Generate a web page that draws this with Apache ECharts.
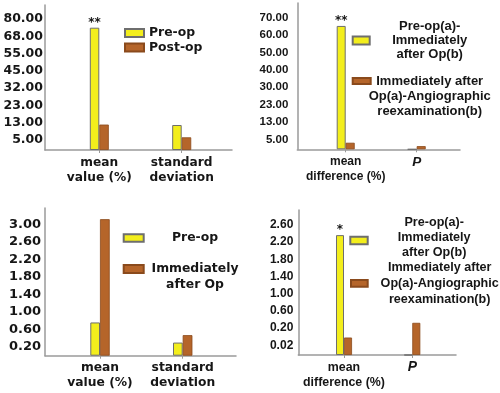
<!DOCTYPE html>
<html><head><meta charset="utf-8">
<script src="https://cdn.jsdelivr.net/npm/echarts@6/dist/echarts.min.js"></script>
<style>html,body{margin:0;padding:0;background:#fff}#c{width:500px;height:393px}</style>
</head><body><div id="c"></div>
<script>
// ---------------- DATA ----------------
// Panel A (top-left)
const catsA = ['mean\nvalue (%)', 'standard\ndeviation'];
const namesA = ['Pre-op', 'Post-op'];
const legendTextA = ['Pre-op', 'Post-op'];
const preOpA = [74, 12];
const postOpA = [12.2, 6.3];
const ticksA = [5, 13, 23, 32, 45, 55, 68, 80];
const marksA = ['**', ''];

// Panel B (top-right)
const catsB = ['mean\ndifference (%)', 'P'];
const namesB = ['Pre-op(a)-Immediately after Op(b)', 'Immediately after Op(a)-Angiographic reexamination(b)'];
const legendTextB = ['Pre-op(a)-\nImmediately\nafter Op(b)', 'Immediately after\nOp(a)-Angiographic\nreexamination(b)'];
const preImmB = [65.2, 0];
const immAngB = [3.3, 1.6];
const ticksB = [5, 13, 23, 30, 40, 50, 60, 70];
const marksB = ['**', ''];

// Panel C (bottom-left)
const catsC = ['mean\nvalue (%)', 'standard\ndeviation'];
const namesC = ['Pre-op', 'Immediately after Op'];
const legendTextC = ['Pre-op', 'Immediately\nafter Op'];
const preOpC = [0.76, 0.30];
const immAfterC = [3.12, 0.47];
const ticksC = [0.2, 0.6, 1.0, 1.4, 1.8, 2.2, 2.6, 3.0];
const marksC = ['', ''];

// Panel D (bottom-right)
const catsD = ['mean\ndifference (%)', 'P'];
const namesD = namesB;
const legendTextD = legendTextB;
const preImmD = [2.36, 0];
const immAngD = [0.10, 0.32];
const ticksD = [0.02, 0.2, 0.6, 1.0, 1.4, 1.8, 2.2, 2.6];
const marksD = ['*', ''];

// ---------------- STYLE / LAYOUT ----------------
const DV = "'DejaVu Sans', sans-serif";
const AR = "'Liberation Sans', Arial, sans-serif";
const YELLOW = '#f3ee1c', YELLOW_B = '#6e6e6e';
const BROWN = '#b5652a', BROWN_B = '#8a4a1c';
const AXIS = '#9a9a9a';
const TXT = '#161616';

const panels = [
  { cats: catsA, names: namesA, ltext: legendTextA, vals: [preOpA, postOpA], ticks: ticksA, marks: marksA,
    L: { left: 45, right: 232, top: 5, axisY: 150, unit: 17.3, offset: 0.57, c0: 99.3, c1: 181.7, barW: 9.5,
         yFam: DV, ySize: 12.5, yMargin: 2, xFam: DV, xSize: 12.2, xMargin: 5.5, xLH: 15,
         legends: [
           { left: 124, top: 25.5, iw: 19, ih: 8, fam: DV, size: 12.4, lh: 15 },
           { left: 124, top: 40, iw: 19, ih: 8, fam: DV, size: 12.4, lh: 15 } ] } },
  { cats: catsB, names: namesB, ltext: legendTextB, vals: [preImmB, immAngB], ticks: ticksB, marks: marksB,
    L: { left: 297.3, right: 460, top: 3, axisY: 149.3, unit: 17.4, offset: 0.57, c0: 345.7, c1: 416.7, barW: 9,
         yFam: AR, ySize: 11.5, yMargin: 9, xFam: AR, xSize: 12, xMargin: 5, xLH: 15,
         legends: [
           { left: 351.7, top: 19.5, iw: 17, ih: 8, fam: AR, size: 13, lh: 14, w: 110 },
           { left: 351.7, top: 43.5, iw: 18, ih: 6, fam: AR, size: 13, lh: 15, w: 108, pad: [30, 0, 0, 0] } ] } },
  { cats: catsC, names: namesC, ltext: legendTextC, vals: [preOpC, immAfterC], ticks: ticksC, marks: marksC,
    L: { left: 45, right: 236, top: 208, axisY: 355.7, unit: 17.5, offset: 0.5, c0: 100, c1: 182.7, barW: 9.7,
         yFam: DV, ySize: 13, yMargin: 4, xFam: DV, xSize: 12.3, xMargin: 5, xLH: 15,
         legends: [
           { left: 122.7, top: 230, iw: 20, ih: 7.5, fam: DV, size: 12.4, lh: 16, w: 92.6 },
           { left: 122.7, top: 245, iw: 20, ih: 8, fam: DV, size: 12.4, lh: 16, w: 92.6, pad: [16, 0, 0, 0] } ] } },
  { cats: catsD, names: namesD, ltext: legendTextD, vals: [preImmD, immAngD], ticks: ticksD, marks: marksD,
    L: { left: 298.3, right: 456, top: 210, axisY: 355, unit: 17.2, offset: 0.57, c0: 344, c1: 412.3, barW: 8,
         yFam: AR, ySize: 12, yMargin: 5, xFam: AR, xSize: 12.4, xMargin: 5, xLH: 15,
         legends: [
           { left: 349.3, top: 215, iw: 17.4, ih: 7.6, fam: AR, size: 12.6, lh: 15, w: 123, pad: [0, 0, 6, 0] },
           { left: 350, top: 259.6, iw: 16.7, ih: 6.7, fam: AR, size: 12.6, lh: 15.8, w: 134 } ] } }
];

function mapper(ticks, offset) {
  const xs = [0, ...ticks];
  const ps = [0, ...ticks.map((t, i) => offset + i)];
  return v => {
    if (v == null) return null;
    let k = 1;
    while (k < xs.length - 1 && v > xs[k]) k++;
    return ps[k - 1] + (v - xs[k - 1]) * (ps[k] - ps[k - 1]) / (xs[k] - xs[k - 1]);
  };
}

const option = { animation: false, grid: [], xAxis: [], yAxis: [], series: [], legend: [] };

panels.forEach((p, gi) => {
  const L = p.L;
  const f = mapper(p.ticks, L.offset);
  const gh = L.axisY - L.top;
  const step = L.c1 - L.c0;
  option.grid.push({ left: L.left, top: L.top, width: L.right - L.left, height: gh, containLabel: false });
  const tickPos = p.ticks.map(t => f(t));
  option.yAxis.push({
    type: 'value', gridIndex: gi, min: 0, max: gh / L.unit,
    axisLine: { show: true, onZero: false, lineStyle: { color: AXIS, width: 1.5 } },
    axisTick: { show: false }, splitLine: { show: false },
    axisLabel: {
      customValues: tickPos, margin: L.yMargin, color: TXT, fontFamily: L.yFam, fontSize: L.ySize, fontWeight: 'bold',
      formatter: v => { const i = tickPos.findIndex(q => Math.abs(q - v) < 1e-6); return i < 0 ? '' : p.ticks[i].toFixed(2); }
    }
  });
  option.xAxis.push({
    type: 'value', gridIndex: gi,
    min: -(L.c0 - L.left) / step, max: 1 + (L.right - L.c1) / step,
    axisLine: { show: true, onZero: false, lineStyle: { color: AXIS, width: 1.5 } },
    axisTick: { show: true, customValues: p.cats.map((c, i) => i), length: 3, lineStyle: { color: AXIS, width: 1 } },
    splitLine: { show: false },
    axisLabel: {
      customValues: p.cats.map((c, i) => i), margin: L.xMargin, color: TXT, fontFamily: L.xFam, fontSize: L.xSize,
      fontWeight: 'bold', lineHeight: L.xLH,
      formatter: v => { const c = p.cats[Math.round(v)]; return c === 'P' ? '{p|P}' : c; },
      rich: { p: { fontStyle: 'italic', fontWeight: 'bold', fontFamily: L.xFam, fontSize: L.xSize + 1.5, color: TXT } }
    }
  });
  p.vals.forEach((arr, si) => {
    option.series.push({
      type: 'bar', name: p.names[si], xAxisIndex: gi, yAxisIndex: gi,
      barWidth: L.barW, barGap: '0%',
      itemStyle: si === 0 ? { color: YELLOW, borderColor: YELLOW_B, borderWidth: 1 }
                          : { color: BROWN, borderColor: BROWN_B, borderWidth: 0.8 },
      label: si === 0 ? { show: true, position: 'top', distance: -1, color: TXT, fontFamily: DV, fontWeight: 'bold',
                          fontSize: 12, formatter: q => p.marks[q.dataIndex] || '' } : { show: false },
      data: arr.map((v, i) => [i, f(v)])
    });
  });
  L.legends.forEach((lg, li) => {
    const lines = p.ltext[li];
    const ts = { color: TXT, fontFamily: lg.fam, fontSize: lg.size, fontWeight: 'bold', lineHeight: lg.lh };
    if (lg.pad) ts.padding = lg.pad;
    let fmt;
    if (lg.w) {
      ts.width = lg.w;
      ts.rich = { c: { align: 'center', color: TXT, fontFamily: lg.fam, fontSize: lg.size, fontWeight: 'bold', lineHeight: lg.lh } };
      fmt = () => lines.split('\n').map(s => '{c|' + s + '}').join('\n');
    } else {
      fmt = () => lines;
    }
    option.legend.push({
      data: [p.names[li]], left: lg.left, top: lg.top, padding: 0, orient: 'vertical',
      itemWidth: lg.iw, itemHeight: lg.ih, icon: 'rect', selectedMode: false,
      textStyle: ts, formatter: fmt
    });
  });
});

const chart = echarts.init(document.getElementById('c'), null, { renderer: 'canvas' });
chart.setOption(option);
</script>
</body></html>
